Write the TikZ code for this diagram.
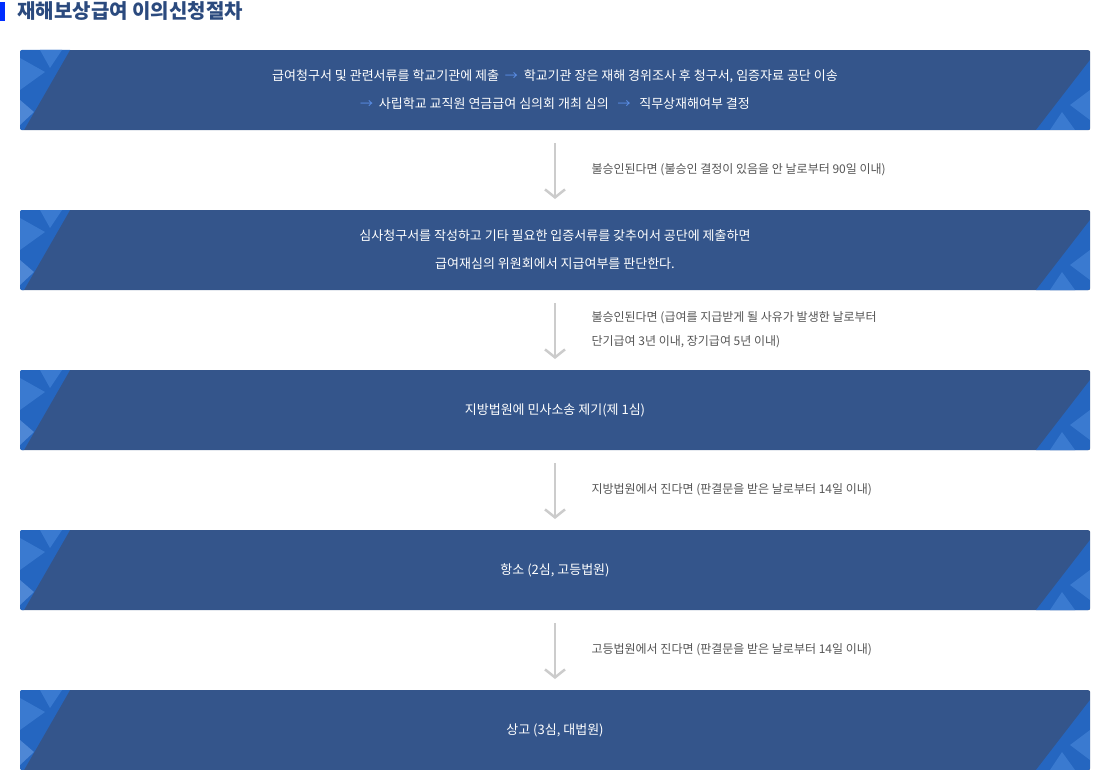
\documentclass[tikz,border=0pt]{standalone}
\usepackage{fontspec}
\usetikzlibrary{arrows.meta}
\setmainfont{Noto Sans CJK KR}
\definecolor{boxc}{HTML}{34558B}
\definecolor{titc}{HTML}{2B4A7E}
\definecolor{deco}{HTML}{2566C0}
\definecolor{decol}{HTML}{3A7AD0}
\definecolor{arr}{HTML}{5B8FE8}
\definecolor{note}{HTML}{555555}
\begin{document}
\begin{tikzpicture}[x=1pt,y=-1pt,
  stepbox/.style={draw=none,fill=boxc,rounded corners=2pt,minimum width=1070pt,minimum height=80pt,anchor=north west,inner sep=0pt},
  btxt/.style={text=white,font=\fontsize{13}{28}\selectfont,align=center},
  ntxt/.style={text=note,font=\fontsize{12}{24}\selectfont,align=left,anchor=west},
  darr/.style={draw=black!20,line width=2.5pt,-{Straight Barb[length=8pt,width=20pt,line width=2.5pt]}}]
\useasboundingbox (0,0) rectangle (1110,770);
\fill[blue!70!cyan!60!blue] (0,2) rectangle (5,21);
\node[anchor=west,text=titc,font=\fontsize{20}{24}\selectfont\bfseries] (title) at (14,11) {재해보상급여 이의신청절차};
\foreach \y/\n in {50/b1,210/b2,370/b3,530/b4,690/b5}{
  \node[stepbox] (\n) at (20,\y) {};
  \begin{scope}
  \clip[rounded corners=2pt] (20,\y) rectangle (1090,\y+80);
  \fill[deco] (20,\y) -- (70,\y) -- (24,\y+80) -- (20,\y+80) -- cycle;
  \fill[decol] (20,\y+8) -- (45,\y+22) -- (20,\y+40) -- cycle;
  \fill[decol] (40,\y) -- (62,\y) -- (50,\y+18) -- cycle;
  \fill[decol!90!white] (20,\y+50) -- (34,\y+62) -- (20,\y+75) -- cycle;
  \fill[deco] (1090,\y+10) -- (1090,\y+80) -- (1036,\y+80) -- cycle;
  \fill[decol] (1090,\y+40) -- (1070,\y+55) -- (1090,\y+70) -- cycle;
  \fill[decol] (1050,\y+80) -- (1062,\y+62) -- (1075,\y+80) -- cycle;
  \end{scope}
}
\node[btxt] (t1) at (555,90) {급여청구서 및 관련서류를 학교기관에 제출 \ {\color{arr}→}\ \ 학교기관 장은 재해 경위조사 후 청구서, 임증자료 공단 이송\\
{\color{arr}→}\ \ 사립학교 교직원 연금급여 심의회 개최 심의 \ \ {\color{arr}→}\ \ \ 직무상재해여부 결정};
\node[btxt] (t2) at (555,250) {심사청구서를 작성하고 기타 필요한 입증서류를 갖추어서 공단에 제출하면\\급여재심의 위원회에서 지급여부를 판단한다.};
\node[btxt] (t3) at (555,410) {지방법원에 민사소송 제기(제 1심)};
\node[btxt] (t4) at (555,570) {항소 (2심, 고등법원)};
\node[btxt] (t5) at (555,730) {상고 (3심, 대법원)};
\foreach \a/\b in {b1/b2,b2/b3,b3/b4,b4/b5}{
  \draw[darr] ([yshift=-13pt]\a.south-|t1.center) -- ([yshift=11pt]\b.north-|t1.center);
}
\node[ntxt] (n1) at (588,170) {불승인된다면 (불승인 결정이 있음을 안 날로부터 90일 이내)};
\node[ntxt] (n2) at (588,330) {불승인된다면 (급여를 지급받게 될 사유가 발생한 날로부터\\단기급여 3년 이내, 장기급여 5년 이내)};
\node[ntxt] (n3) at (588,490) {지방법원에서 진다면 (판결문을 받은 날로부터 14일 이내)};
\node[ntxt] (n4) at (588,650) {고등법원에서 진다면 (판결문을 받은 날로부터 14일 이내)};
\end{tikzpicture}
\end{document}
